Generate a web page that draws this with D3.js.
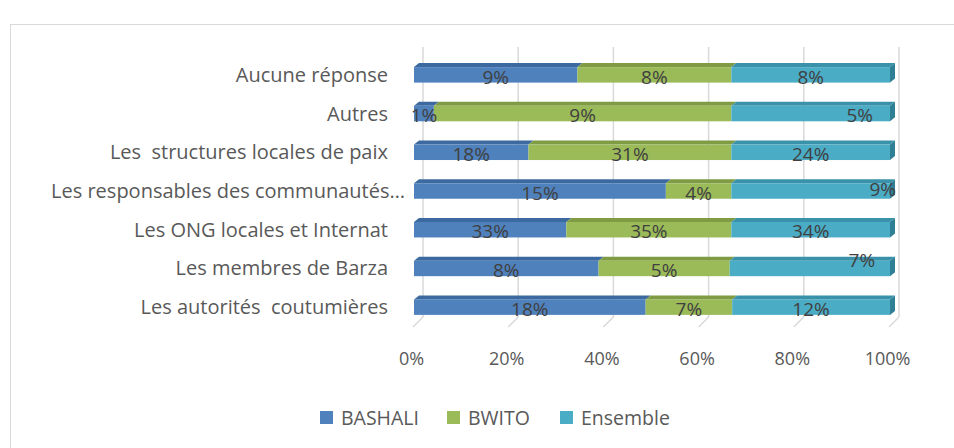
<!DOCTYPE html>
<html>
<head>
<meta charset="utf-8">
<script src="https://cdn.jsdelivr.net/npm/d3@7"></script>
<style>
  body { margin: 0; background: #fff; }
  svg { display: block; font-family: "Open Sans", sans-serif; }
</style>
</head>
<body>
<svg></svg>
<script>
var width = 954;
var height = 448;

// categories top -> bottom
var categories = [
  "Aucune réponse",
  "Autres",
  "Les  structures locales de paix",
  "Les responsables des communautés…",
  "Les ONG locales et Internat",
  "Les membres de Barza",
  "Les autorités  coutumières"
];
var seriesNames = ["BASHALI", "BWITO", "Ensemble"];
var bashali  = [8.6, 0.6, 17.6, 15.0, 32.6, 7.6, 18.2];
var bwito    = [8.1, 9.0, 31.2, 3.9, 35.3, 5.4, 6.8];
var ensemble = [8.35, 4.8, 24.4, 9.45, 33.95, 6.6, 12.4];
var tickValues = [0, 0.2, 0.4, 0.6, 0.8, 1];

var colors = ["#4f81bd", "#9bbb59", "#4bacc6"];
var topColors = ["#3c6aa0", "#7f9c45", "#3a92aa"];
var sideColor = "#2f7f95";

var svg = d3.select("svg")
  .attr("width", width)
  .attr("height", height);

// chart border
svg.append("rect")
  .attr("x", 10.5).attr("y", 24.5)
  .attr("width", 960).attr("height", 440)
  .attr("fill", "none")
  .attr("stroke", "#d9d9d9");

var x = d3.scaleLinear().domain([0, 1]).range([413, 889]);
var xb = d3.scaleLinear().domain([0, 1]).range([414, 890]);
var y = d3.scaleBand().domain(categories)
  .range([55.5, 326.5]).paddingInner(0.6).paddingOuter(0.3);

var backDx = 10, backDy = -10, floorY = 327;
var barDx = 5, barDy = -4;

// gridlines: back wall + floor
var grid = svg.append("g");
tickValues.forEach(function(t) {
  grid.append("line")
    .attr("x1", x(t) + backDx).attr("x2", x(t) + backDx)
    .attr("y1", 47).attr("y2", floorY + backDy)
    .attr("stroke", "#d9d9d9").attr("stroke-width", 1.5);
  grid.append("line")
    .attr("x1", x(t) + backDx).attr("y1", floorY + backDy)
    .attr("x2", x(t)).attr("y2", floorY)
    .attr("stroke", "#d9d9d9").attr("stroke-width", 1.5);
});

// stack to 100%
var rows = categories.map(function(c, i) {
  return { cat: c, BASHALI: bashali[i], BWITO: bwito[i], Ensemble: ensemble[i] };
});
var stack = d3.stack().keys(seriesNames).offset(d3.stackOffsetExpand);
var series = stack(rows);

var bars = svg.append("g");
series.forEach(function(s, si) {
  s.forEach(function(d) {
    var y0 = y(d.data.cat), bh = y.bandwidth();
    var x0 = xb(d[0]), x1 = xb(d[1]);
    // top face
    bars.append("path")
      .attr("d", "M" + x0 + "," + y0 + "L" + (x0 + barDx) + "," + (y0 + barDy) +
        "L" + (x1 + barDx) + "," + (y0 + barDy) + "L" + x1 + "," + y0 + "Z")
      .attr("fill", topColors[si]);
    // front face
    bars.append("rect")
      .attr("x", x0).attr("y", y0)
      .attr("width", x1 - x0).attr("height", bh)
      .attr("fill", colors[si]);
    // right side face on last segment
    if (si == seriesNames.length - 1) {
      bars.append("path")
        .attr("d", "M" + x1 + "," + y0 + "L" + (x1 + barDx) + "," + (y0 + barDy) +
          "L" + (x1 + barDx) + "," + (y0 + barDy + bh) + "L" + x1 + "," + (y0 + bh) + "Z")
        .attr("fill", sideColor);
    }
  });
});

// data labels (a few were moved by hand in the original)
var nudge = { "1-2": [49, 0], "3-2": [72, -4], "5-2": [52, -10] };
var raw = [bashali, bwito, ensemble];
var labels = svg.append("g")
  .attr("font-size", "19px").attr("fill", "#404040").attr("text-anchor", "middle");
series.forEach(function(s, si) {
  s.forEach(function(d, i) {
    var n = nudge[i + "-" + si] || [0, 0];
    labels.append("text")
      .attr("x", (xb(d[0]) + xb(d[1])) / 2 + n[0])
      .attr("y", y(d.data.cat) + y.bandwidth() / 2 + 2 + n[1])
      .attr("dy", "0.35em")
      .text(d3.format(".0f")(raw[si][i]) + "%");
  });
});

// category labels
var catG = svg.append("g")
  .attr("font-size", "20px").attr("fill", "#595959").attr("text-anchor", "end");
categories.forEach(function(c) {
  catG.append("text")
    .attr("x", c.slice(-1) == "…" ? 405 : 388)
    .attr("y", y(c) + y.bandwidth() / 2)
    .attr("dy", "0.35em")
    .style("white-space", "pre")
    .text(c);
});

// x axis tick labels
var xAxis = d3.axisBottom(x).tickValues(tickValues)
  .tickFormat(d3.format(".0%")).tickSize(0).tickPadding(0);
var ax = svg.append("g")
  .attr("transform", "translate(-2," + 352 + ")")
  .call(xAxis);
ax.select(".domain").remove();
ax.selectAll("text")
  .attr("font-family", "Open Sans, sans-serif")
  .attr("font-size", "18px").attr("fill", "#595959");

// legend
var legendX = [320, 447, 560];
var legend = svg.append("g");
seriesNames.forEach(function(name, i) {
  var g = legend.append("g").attr("transform", "translate(" + legendX[i] + ",411)");
  g.append("rect").attr("width", 13).attr("height", 13).attr("fill", colors[i]);
  g.append("text").attr("x", 21).attr("y", 7).attr("dy", "0.35em")
    .attr("font-size", "19.5px").attr("fill", "#595959").text(name);
});
</script>
</body>
</html>
